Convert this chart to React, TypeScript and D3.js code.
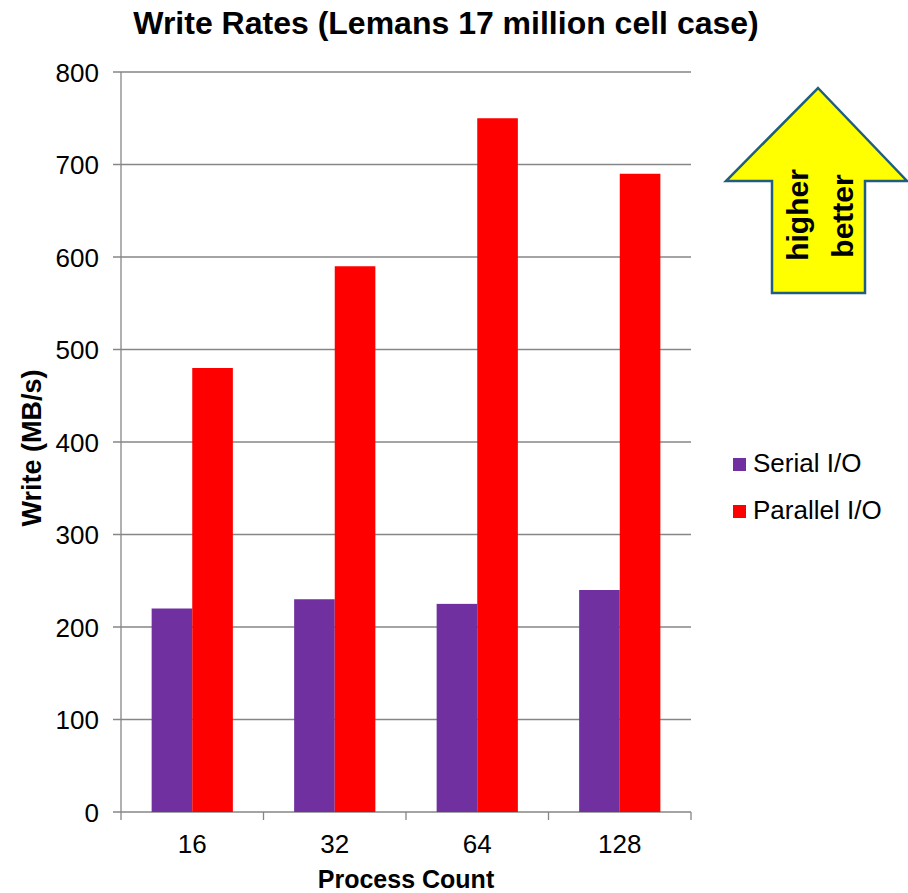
import React from "react";
import * as d3 from "d3";

const categories = ["16", "32", "64", "128"];
const seriesNames = ["Serial I/O", "Parallel I/O"];
const serialValues = [220, 230, 225, 240];
const parallelValues = [480, 590, 750, 690];
const yTicks = [0, 100, 200, 300, 400, 500, 600, 700, 800];
const colors = ["#7030A0", "#FF0000"];

const W = 908, H = 893;
const L = 121, R = 691, T = 72, B = 812;
const FONT = "Liberation Sans, Arial, sans-serif";

export default function App() {
  const x = d3.scaleBand<string>().domain(categories).range([L, R]).paddingInner(0.43).paddingOuter(0.215);
  const xs = d3.scaleBand<string>().domain(seriesNames).range([0, x.bandwidth()]);
  const y = d3.scaleLinear().domain([0, 800]).range([B, T]);
  const xc = d3.scaleBand<string>().domain(categories).range([L, R]);
  const series = [serialValues, parallelValues];
  const grid = "#868686";
  const arrowPath = (() => {
    const p = d3.path();
    p.moveTo(818, 88);
    p.lineTo(907, 181);
    p.lineTo(865, 181);
    p.lineTo(865, 293);
    p.lineTo(772, 293);
    p.lineTo(772, 181);
    p.lineTo(726, 181);
    p.closePath();
    return p.toString();
  })();
  return (
    <svg width={W} height={H} style={{ position: "absolute", left: 0, top: 0 }}>
      <rect width={W} height={H} fill="#fff" />
      <text x={446} y={34} textAnchor="middle" fontFamily={FONT} fontWeight="bold" fontSize={32}>
        Write Rates (Lemans 17 million cell case)
      </text>
      {yTicks.map((t) => (
        <g key={t}>
          <line x1={113} x2={R} y1={y(t)} y2={y(t)} stroke={grid} strokeWidth={1.3} />
          <text x={99} y={y(t) + 9.5} textAnchor="end" fontFamily={FONT} fontSize={26}>{t}</text>
        </g>
      ))}
      <line x1={L} x2={L} y1={T} y2={B} stroke={grid} strokeWidth={1.3} />
      {[...categories.map((c) => xc(c)!), R].map((v, i) => (
        <line key={i} x1={v} x2={v} y1={B} y2={B + 8} stroke={grid} strokeWidth={1.3} />
      ))}
      {categories.map((c, i) => (
        <g key={c}>
          {series.map((s, j) => (
            <rect key={j} x={x(c)! + xs(seriesNames[j])!} width={xs.bandwidth()} y={y(s[i])} height={B - y(s[i])} fill={colors[j]} />
          ))}
          <text x={xc(c)! + xc.bandwidth() / 2} y={853} textAnchor="middle" fontFamily={FONT} fontSize={26}>{c}</text>
        </g>
      ))}
      <text x={406} y={888} textAnchor="middle" fontFamily={FONT} fontWeight="bold" fontSize={25}>Process Count</text>
      <text transform={`translate(41,${(T + B) / 2 + 6}) rotate(-90)`} textAnchor="middle" fontFamily={FONT} fontWeight="bold" fontSize={27}>Write (MB/s)</text>
      {seriesNames.map((n, j) => (
        <g key={n}>
          <rect x={733} y={458 + j * 47} width={13} height={13} fill={colors[j]} />
          <text x={753} y={471.5 + j * 47} fontFamily={FONT} fontSize={26}>{n}</text>
        </g>
      ))}
      <path d={arrowPath} fill="#FFFF00" stroke="#215E7E" strokeWidth={2.5} strokeLinejoin="miter" />
      <text transform="translate(808,215) rotate(-90)" textAnchor="middle" fontFamily={FONT} fontWeight="bold" fontSize={30}>higher</text>
      <text transform="translate(853,216) rotate(-90)" textAnchor="middle" fontFamily={FONT} fontWeight="bold" fontSize={30}>better</text>
    </svg>
  );
}
